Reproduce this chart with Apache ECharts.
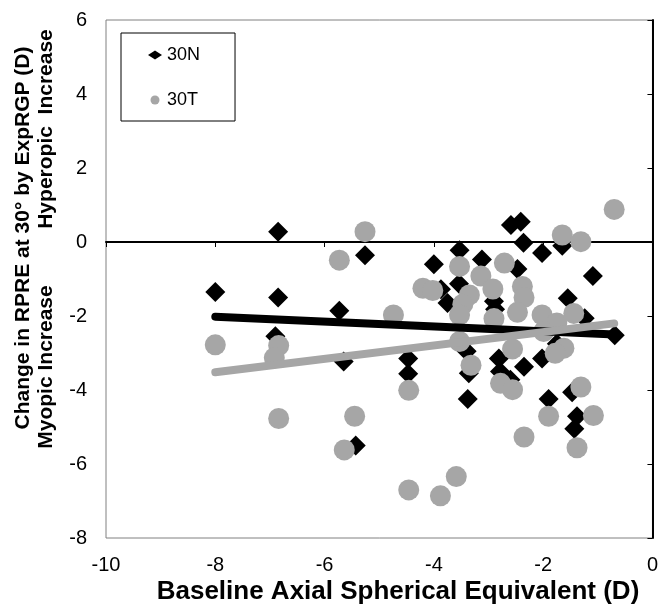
<!DOCTYPE html>
<html>
<head>
<meta charset="utf-8">
<script src="https://cdn.jsdelivr.net/npm/echarts@6/dist/echarts.min.js"></script>
<style>
  html, body { margin: 0; padding: 0; background: #fff; }
  #chart { width: 661px; height: 604px; }
</style>
</head>
<body>
<div id="chart"></div>
<script>
// Axis ranges and tick spacing
const xRange = [-10, 0];
const yRange = [-8, 6];
const xStep = 2;
const yStep = 2;

// 30N: [baseline axial SE, change in RPRE]
const points30N = [
  [-8.0, -1.35], [-6.85, 0.28], [-6.85, -1.5], [-6.9, -2.55],
  [-5.73, -1.86], [-5.26, -0.36], [-5.65, -3.23], [-5.43, -5.5],
  [-4.47, -3.15], [-4.47, -3.56], [-4.0, -0.6], [-3.87, -1.28],
  [-3.75, -1.65], [-3.53, -0.22], [-3.54, -1.13], [-3.12, -0.47],
  [-3.4, -2.95], [-3.36, -3.55], [-3.38, -4.24], [-2.9, -1.6],
  [-2.88, -1.82], [-2.81, -3.15], [-2.79, -3.5], [-2.6, -3.72],
  [-2.59, 0.46], [-2.41, 0.55], [-2.47, -0.73], [-2.36, -0.02],
  [-2.35, -3.37], [-2.02, -0.3], [-2.02, -3.15], [-1.75, -2.75],
  [-1.9, -4.24], [-1.65, -0.1], [-1.55, -1.52], [-1.24, -2.06],
  [-1.09, -0.92], [-1.47, -4.06], [-1.38, -4.71], [-1.43, -5.05],
  [-0.69, -2.52]
];

// 30T: [baseline axial SE, change in RPRE]
const points30T = [
  [-8.0, -2.78], [-6.84, -2.8], [-6.92, -3.13], [-6.84, -4.77],
  [-5.26, 0.28], [-5.73, -0.49], [-4.74, -1.97], [-4.2, -1.25],
  [-4.02, -1.31], [-4.46, -4.01], [-5.45, -4.71], [-5.64, -5.62],
  [-4.46, -6.7], [-3.88, -6.86], [-3.59, -6.34], [-3.53, -0.66],
  [-3.14, -0.92], [-2.71, -0.57], [-3.35, -1.43], [-3.47, -1.68],
  [-3.53, -1.97], [-2.92, -1.27], [-2.38, -1.2], [-2.35, -1.5],
  [-2.47, -1.9], [-2.9, -2.07], [-3.53, -2.69], [-2.56, -2.89],
  [-3.32, -3.33], [-2.78, -3.82], [-2.56, -3.99], [-2.35, -5.27],
  [-2.02, -1.97], [-1.75, -2.19], [-1.99, -2.42], [-1.44, -1.93],
  [-1.62, -2.87], [-1.78, -3.01], [-1.31, -3.92], [-1.9, -4.71],
  [-1.08, -4.69], [-1.38, -5.56], [-1.65, 0.19], [-1.31, 0.01],
  [-0.7, 0.88]
];

// Linear trend lines (end points)
const trend30N = [[-8.0, -2.02], [-0.69, -2.5]];
const trend30T = [[-8.0, -3.52], [-0.7, -2.2]];

const BLACK = '#000000';
const GREY = '#A6A6A6';
const FONT = '"Liberation Sans", Arial, sans-serif';

const chart = echarts.init(document.getElementById('chart'), null, { renderer: 'canvas' });

const xBase = {
  type: 'value', min: xRange[0], max: xRange[1], interval: xStep,
  splitLine: { show: false }
};
const yBase = {
  type: 'value', min: yRange[0], max: yRange[1], interval: yStep,
  splitLine: { show: false }
};

chart.setOption({
  animation: false,
  backgroundColor: '#ffffff',
  grid: {
    left: 106, right: 7, top: 20, bottom: 66,
    show: true, borderColor: '#808080', borderWidth: 1
  },
  legend: {
    data: ['30N', '30T'],
    orient: 'vertical',
    left: 121, top: 33,
    padding: [11, 35, 10, 27],
    itemWidth: 14, itemHeight: 9, itemGap: 23,
    borderColor: BLACK, borderWidth: 1,
    textStyle: { fontFamily: FONT, fontSize: 18, color: BLACK, lineHeight: 22 }
  },
  xAxis: [
    Object.assign({}, xBase, {
      position: 'bottom',
      axisLine: { show: false, onZero: false },
      axisTick: { show: false },
      axisLabel: { fontFamily: FONT, fontSize: 20, color: BLACK, margin: 17 }
    }),
    Object.assign({}, xBase, {
      position: 'bottom',
      axisLine: { show: true, onZero: true, onZeroAxisIndex: 0, lineStyle: { color: BLACK, width: 2 } },
      axisTick: { show: true, inside: false, length: 5, lineStyle: { color: BLACK, width: 1 } },
      axisLabel: { show: false }
    })
  ],
  yAxis: [
    Object.assign({}, yBase, {
      position: 'left',
      axisLine: { show: false, onZero: false },
      axisTick: { show: false },
      axisLabel: { fontFamily: FONT, fontSize: 20, color: BLACK, margin: 19 }
    }),
    Object.assign({}, yBase, {
      position: 'right',
      axisLine: { show: true, onZero: false, lineStyle: { color: BLACK, width: 2 } },
      axisTick: { show: true, inside: true, length: 5, lineStyle: { color: BLACK, width: 1 } },
      axisLabel: { show: false }
    })
  ],
  series: [
    {
      name: '30N', type: 'scatter', xAxisIndex: 0, yAxisIndex: 0,
      symbol: 'diamond', symbolSize: 20,
      itemStyle: { color: BLACK, opacity: 1 },
      data: points30N, z: 2
    },
    {
      name: '30T', type: 'scatter', xAxisIndex: 0, yAxisIndex: 0,
      symbol: 'circle', symbolSize: 21,
      itemStyle: { color: GREY, opacity: 1 },
      data: points30T, z: 3
    },
    {
      name: 'trend30N', type: 'line', xAxisIndex: 0, yAxisIndex: 0,
      showSymbol: false, symbol: 'none', silent: true,
      lineStyle: { color: BLACK, width: 8, cap: 'round' },
      data: trend30N, z: 4
    },
    {
      name: 'trend30T', type: 'line', xAxisIndex: 0, yAxisIndex: 0,
      showSymbol: false, symbol: 'none', silent: true,
      lineStyle: { color: GREY, width: 8, cap: 'round' },
      data: trend30T, z: 5
    }
  ],
  graphic: [
    {
      type: 'text', x: 398, y: 592,
      style: {
        text: 'Baseline Axial Spherical Equivalent (D)',
        font: 'bold 26px ' + FONT, fill: BLACK,
        align: 'center', verticalAlign: 'middle'
      }
    },
    {
      type: 'text', x: 23, y: 238, rotation: Math.PI / 2,
      style: {
        text: 'Change in RPRE at 30\u00b0 by ExpRGP (D)',
        font: 'bold 21px ' + FONT, fill: BLACK,
        align: 'center', verticalAlign: 'middle'
      }
    },
    {
      type: 'text', x: 46, y: 367, rotation: Math.PI / 2,
      style: {
        text: 'Myopic Increase',
        font: 'bold 21px ' + FONT, fill: BLACK,
        align: 'center', verticalAlign: 'middle'
      }
    },
    {
      type: 'text', x: 46, y: 129, rotation: Math.PI / 2,
      style: {
        text: 'Hyperopic  Increase',
        font: 'bold 21px ' + FONT, fill: BLACK,
        align: 'center', verticalAlign: 'middle'
      }
    }
  ]
});
</script>
</body>
</html>
